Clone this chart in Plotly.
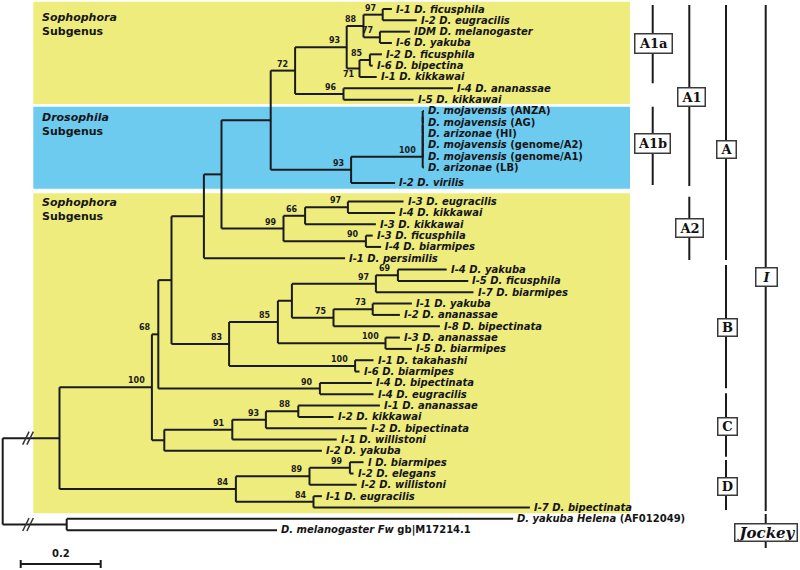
import plotly.graph_objects as go

# ---------------- data ----------------
tip_italic = [
    "I-1 D. ficusphila", "I-2 D. eugracilis", "IDM D. melanogaster", "I-6 D. yakuba",
    "I-2 D. ficusphila", "I-6 D. bipectina", "I-1 D. kikkawai", "I-4 D. ananassae",
    "I-5 D. kikkawai", "D. mojavensis", "D. mojavensis", "D. arizonae", "D. mojavensis",
    "D. mojavensis", "D. arizonae", "I-2 D. virilis", "I-3 D. eugracilis", "I-4 D. kikkawai",
    "I-3 D. kikkawai", "I-3 D. ficusphila", "I-4 D. biarmipes", "I-1 D. persimilis",
    "I-4 D. yakuba", "I-5 D. ficusphila", "I-7 D. biarmipes", "I-1 D. yakuba",
    "I-2 D. ananassae", "I-8 D. bipectinata", "I-3 D. ananassae", "I-5 D. biarmipes",
    "I-1 D. takahashi", "I-6 D. biarmipes", "I-4 D. bipectinata", "I-4 D. eugracilis",
    "I-1 D. ananassae", "I-2 D. kikkawai", "I-2 D. bipectinata", "I-1 D. willistoni",
    "I-2 D. yakuba", "I D. biarmipes", "I-2 D. elegans", "I-2 D. willistoni",
    "I-1 D. eugracilis", "I-7 D. bipectinata", "D. yakuba Helena", "D. melanogaster Fw",
]
tip_roman = ([""] * 9 + ["(ANZA)", "(AG)", "(HI)", "(genome/A2)", "(genome/A1)", "(LB)"]
             + [""] * 29 + ["(AF012049)", "gb|M17214.1"])
# distance of each tip from the (truncated) root, substitutions/site
tip_dist = [
    0.973, 1.035, 1.018, 0.973, 0.948, 0.925, 0.935, 1.126, 1.027,
    1.053, 1.053, 1.053, 1.053, 1.053, 1.053, 0.981,
    1.002, 0.981, 0.933, 0.925, 0.946, 0.856,
    1.110, 1.164, 1.177, 1.023, 0.993, 1.093, 0.993, 1.023, 0.927, 0.892,
    0.923, 0.927, 0.943, 0.827, 0.910, 0.835, 0.798,
    0.902, 0.877, 0.885, 0.798, 1.318, 1.276, 0.686,
]

node_id = ["n97a", "n77", "n88", "n85", "n71", "n93a", "n96", "n72",
           "m1", "m2", "m3", "m4", "m5", "n93b", "nA1",
           "n97c", "n66", "n90", "n99", "nA", "nAp",
           "n69", "n97d", "n73", "n75", "nB1", "n100c", "n85b", "n100d", "n83", "nAB",
           "n90b", "n68", "n88b", "n93c", "n91", "nC", "n100",
           "n99b", "n89", "n84b", "n84", "nIn", "nOut", "root"]
node_kids = [[0, 1], [2, 3], ["n97a", "n77"], [4, 5], ["n85", 6], ["n88", "n71"], [7, 8], ["n93a", "n96"],
             [9, 10], ["m1", 11], ["m2", 12], ["m3", 13], ["m4", 14], ["m5", 15], ["n72", "n93b"],
             [16, 17], ["n97c", 18], [19, 20], ["n66", "n90"], ["nA1", "n99"], ["nA", 21],
             [22, 23], ["n69", 24], [25, 26], ["n73", 27], ["n97d", "n75"], [28, 29], ["nB1", "n100c"],
             [30, 31], ["n85b", "n100d"], ["nAp", "n83"],
             [32, 33], ["nAB", "n90b"], [34, 35], ["n88b", 36], ["n93c", 37], ["n91", 38], ["n68", "nC"],
             [39, 40], ["n99b", 41], [42, 43], ["n89", "n84b"], ["n100", "n84"], [44, 45], ["nIn", "nOut"]]
node_dist = [0.950, 0.943, 0.902, 0.918, 0.892, 0.860, 0.852, 0.731,
             1.050, 1.050, 1.050, 1.050, 1.050, 0.871, 0.670,
             0.863, 0.756, 0.908, 0.702, 0.547, 0.503,
             0.988, 0.933, 0.925, 0.827, 0.723, 0.957, 0.688, 0.881, 0.566, 0.422,
             0.793, 0.389, 0.739, 0.658, 0.574, 0.404, 0.373,
             0.868, 0.767, 0.777, 0.583, 0.142, 0.160, 0.0]
node_boot = ["97", "77", "88", "85", "71", "93", "96", "72",
             "", "", "", "", "100", "93", "",
             "97", "66", "90", "99", "", "",
             "69", "97", "73", "75", "", "100", "85", "100", "83", "",
             "90", "68", "88", "93", "91", "", "100",
             "99", "89", "84", "84", "", "", ""]

clade_labels = ["A1a", "A1b", "A1", "A2", "A", "B", "C", "D", "I", "Jockey"]
subgenus_labels = ["Sophophora", "Drosophila", "Sophophora"]
scale_value = 0.2

# ---------------- layout constants ----------------
W, H = 800, 570
PX = 400.0            # pixels per substitution unit
ROOT_PX = 2.7
X_RANGE = [(0 - ROOT_PX) / PX, (W - ROOT_PX) / PX]
ROW0, PITCH = 9.0, 11.33
extra_gap_after = {14: 0.35, 15: 0.65}
LINE = "#1b1b1b"
YELLOW = "#EFEC7E"
BLUE = "#6DCBF0"

def px2x(p):
    return (p - ROOT_PX) / PX

# row positions of tips
tip_y = []
slot = 0.0
for i in range(len(tip_italic)):
    tip_y.append(ROW0 + slot * PITCH)
    slot += 1 + extra_gap_after.get(i, 0)

pos = {i: (tip_dist[i], tip_y[i]) for i in range(len(tip_italic))}
for nid, kids, d in zip(node_id, node_kids, node_dist):
    ys = [pos[k][1] for k in kids]
    pos[nid] = (d, (min(ys) + max(ys)) / 2)

xs, ys = [], []
for nid, kids in zip(node_id, node_kids):
    nx, _ = pos[nid]
    kys = [pos[k][1] for k in kids]
    xs += [nx, nx, None]
    ys += [min(kys), max(kys), None]
    for k in kids:
        kx, ky = pos[k]
        xs += [nx, kx, None]
        ys += [ky, ky, None]

fig = go.Figure()
fig.add_trace(go.Scatter(x=xs, y=ys, mode="lines", line=dict(color=LINE, width=2),
                         hoverinfo="skip", showlegend=False))

# broken-branch marks "//" on the two root branches
bx_, by_ = [], []
for nid in ["nIn", "nOut"]:
    yb = pos[nid][1]
    for x_lo in (22.7, 26.9):
        bx_ += [px2x(x_lo), px2x(x_lo + 6.4), None]
        by_ += [yb + 6.5, yb - 6.5, None]
fig.add_trace(go.Scatter(x=bx_, y=by_, mode="lines", line=dict(color="#333", width=1.5),
                         hoverinfo="skip", showlegend=False))

# scale bar
sb_x0 = px2x(20.7)
fig.add_trace(go.Scatter(x=[sb_x0, sb_x0 + scale_value, None, sb_x0, sb_x0, None,
                            sb_x0 + scale_value, sb_x0 + scale_value],
                         y=[564, 564, None, 560, 568, None, 560, 568],
                         mode="lines", line=dict(color=LINE, width=2),
                         hoverinfo="skip", showlegend=False))

ann = []
# tip labels
for i, (it, ro) in enumerate(zip(tip_italic, tip_roman)):
    txt = "<b><i>%s</i>%s</b>" % (it, (" " + ro) if ro else "")
    ann.append(dict(x=tip_dist[i], y=tip_y[i], text=txt, showarrow=False, xanchor="left",
                    yanchor="middle", xshift=2, yshift=0,
                    font=dict(family="DejaVu Sans", size=10, color="#151515")))
# bootstrap values
for nid, b in zip(node_id, node_boot):
    if not b:
        continue
    nx, ny = pos[nid]
    below = (nid == "n71")
    ann.append(dict(x=nx, y=ny, text="<b>%s</b>" % b, showarrow=False, xanchor="right",
                    yanchor="top" if below else "bottom", xshift=-3 if below else -5,
                    yshift=0,
                    font=dict(family="DejaVu Sans", size=8, color="#1a1a1a")))
# scale label
ann.append(dict(x=sb_x0 + scale_value / 2, y=561, text="<b>%s</b>" % scale_value, showarrow=False,
                xanchor="center", yanchor="bottom",
                font=dict(family="DejaVu Sans", size=10, color="#151515")))
# subgenus labels
for lab, yy in zip(subgenus_labels, [24.5, 124.0, 209.0]):
    ann.append(dict(x=40 / W, xref="paper", y=yy, text="<b><i>%s</i><br>Subgenus</b>" % lab,
                    showarrow=False, xanchor="left", yanchor="middle", align="left",
                    font=dict(family="DejaVu Sans", size=11, color="#151515")))

# clade boxes (center px x, center y, w, h)
box_geom = {"A1a": (653.5, 43.5, 39, 21), "A1b": (652.5, 143.7, 37, 21), "A1": (691.3, 96.7, 29, 20),
            "A2": (689.7, 228.3, 29, 20), "A": (726.2, 149.5, 21, 19), "B": (727, 327, 21, 19),
            "C": (727, 426, 21, 19), "D": (727, 486, 21, 19), "I": (766.3, 276.7, 23, 20),
            "Jockey": (766.3, 532, 64, 19)}
for lab in clade_labels:
    cx, cy, bw, bh = box_geom[lab]
    it = lab in ("I", "Jockey")
    txt = "<b><i>%s</i></b>" % lab if it else "<b>%s</b>" % lab
    ann.append(dict(x=cx / W, xref="paper", y=cy, text=txt, showarrow=False,
                    xanchor="center", yanchor="middle", width=bw - 3, height=bh - 3,
                    bgcolor="white", bordercolor="#3a3a3a", borderwidth=1.5, borderpad=0,
                    font=dict(family="DejaVu Serif", size=15 if lab == "Jockey" else 13, color="#111")))

shapes = []
# coloured subgenus panels
for (y0, y1, col) in [(1.7, 104.0, YELLOW), (106.7, 188.7, BLUE), (193.3, 513.3, YELLOW)]:
    shapes.append(dict(type="rect", xref="paper", yref="y", x0=33.3 / W, x1=630 / W, y0=y0, y1=y1,
                       fillcolor=col, line=dict(width=0), layer="below"))
# clade bars
bars = [(652.7, 5, 83.3), (652.7, 106.7, 185), (689.3, 5, 186), (689.3, 196.7, 260),
        (726, 5, 260), (726, 265, 388.3), (726, 393.3, 456.7), (726, 460, 510),
        (765.7, 5, 511), (765.7, 514, 548)]
for bx, y0, y1 in bars:
    shapes.append(dict(type="line", xref="paper", yref="y", x0=bx / W, x1=bx / W, y0=y0, y1=y1,
                       line=dict(color=LINE, width=2)))

fig.update_layout(
    width=W, height=H, margin=dict(l=0, r=0, t=0, b=0),
    paper_bgcolor="white", plot_bgcolor="white",
    xaxis=dict(range=X_RANGE, visible=False, fixedrange=True),
    yaxis=dict(range=[H, 0], visible=False, fixedrange=True),
    annotations=ann, shapes=shapes, showlegend=False,
)
fig.write_html("out.html", config={"displayModeBar": False},
               post_script="document.body.style.margin='0px';document.body.style.padding='0px';"
                           "document.body.style.overflow='hidden';")
